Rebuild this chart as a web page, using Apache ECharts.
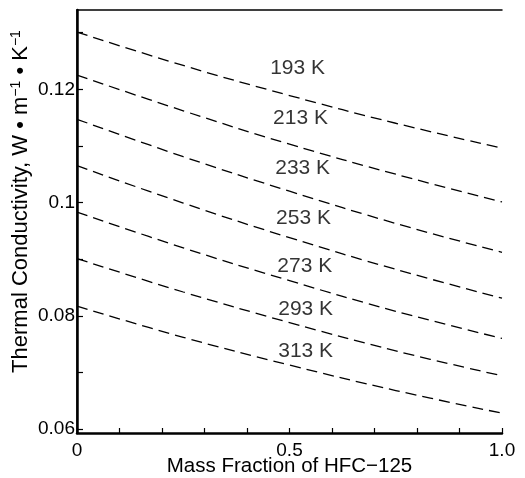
<!DOCTYPE html>
<html><head><meta charset="utf-8">
<script src="https://cdn.jsdelivr.net/npm/echarts@6/dist/echarts.min.js"></script>
<style>html,body{margin:0;padding:0;background:#fff}#c{width:525px;height:478px}</style>
</head><body><div id="c"></div>
<script>
// Mass fraction sample points
const massFraction = [0, 0.25, 0.5, 0.75, 1.0];
// Temperatures (K)
const temps = [193, 213, 233, 253, 273, 293, 313];
// Thermal conductivity values (W m^-1 K^-1) per isotherm
const k193 = [0.1301, 0.1242, 0.1189, 0.1140, 0.1096];
const k213 = [0.1225, 0.1162, 0.1103, 0.1050, 0.1001];
const k233 = [0.1147, 0.1081, 0.1020, 0.0963, 0.0912];
const k253 = [0.1065, 0.0999, 0.0938, 0.0882, 0.0831];
const k273 = [0.0983, 0.0920, 0.0862, 0.0808, 0.0760];
const k293 = [0.0901, 0.0842, 0.0788, 0.0738, 0.0694];
const k313 = [0.0817, 0.0762, 0.0713, 0.0668, 0.0628];
// Isotherm label anchors (mass fraction, conductivity)
const labelX = [0.519, 0.526, 0.531, 0.533, 0.536, 0.538, 0.538];
const labelY = [0.1237, 0.1149, 0.1061, 0.0973, 0.0888, 0.0811, 0.0737];
// Tick labels
const xTickLabels = [0, 0.5, 1.0];
const xTicks = [0, 0.1, 0.2, 0.3, 0.4, 0.5, 0.6, 0.7, 0.8, 0.9, 1.0];
const yTickLabels = [0.06, 0.08, 0.1, 0.12];
const yTicks = [0.06, 0.07, 0.08, 0.09, 0.10, 0.11, 0.12, 0.13];

const allK = [k193, k213, k233, k253, k273, k293, k313];
const FONT = 'Liberation Sans, Arial, sans-serif';

const lineSeries = allK.map((arr, i) => ({
  type: 'line', name: temps[i] + ' K', smooth: 0.4, symbol: 'none',
  data: massFraction.map((x, j) => [x, arr[j]]),
  lineStyle: { color: '#000', width: 1.3, type: [11, 6] },
  z: 2, silent: true
}));

const labelSeries = {
  type: 'scatter', symbolSize: 0, silent: true,
  data: temps.map((t, i) => ({ value: [labelX[i], labelY[i]], name: t + ' K' })),
  label: { show: true, position: 'inside', formatter: p => p.name,
           color: '#000', fontSize: 21, fontFamily: FONT },
  z: 5
};

const chart = echarts.init(document.getElementById('c'));
chart.setOption({
  animation: false,
  backgroundColor: '#fff',
  grid: { left: 77, right: 23, top: 10, bottom: 45, outerBoundsMode: 'none', containLabel: false },
  xAxis: [{
    type: 'value', min: 0, max: 1,
    name: 'Mass Fraction of HFC\u2212125', nameLocation: 'middle', nameGap: 23, nameMoveOverlap: false,
    nameTextStyle: { color: '#000', fontSize: 20.5, fontFamily: FONT },
    axisLine: { show: true, lineStyle: { color: '#000', width: 2.5 } },
    axisTick: { show: true, inside: true, length: 5, customValues: xTicks, lineStyle: { color: '#000', width: 1.2 } },
    axisLabel: { customValues: xTickLabels, color: '#000', fontSize: 19, fontFamily: FONT, margin: 8,
                 formatter: v => v === 1 ? '1.0' : String(v) },
    splitLine: { show: false }
  }, {
    type: 'value', min: 0, max: 1, position: 'top',
    axisLine: { show: true, lineStyle: { color: '#000', width: 1.5 } },
    axisTick: { show: false }, axisLabel: { show: false }, splitLine: { show: false }
  }],
  yAxis: [{
    type: 'value', min: 0.0593, max: 0.134,
    name: '{a|Thermal Conductivity, W \u2022 m}{s|\u22121}{a| \u2022 K}{s|\u22121}',
    nameLocation: 'middle', nameGap: 44, nameRotate: 90, nameMoveOverlap: false,
    nameTextStyle: { color: '#000', fontSize: 22, fontFamily: FONT, padding: [0, 0, 0, 40],
      rich: { a: { fontSize: 22, fontFamily: FONT, color: '#000' },
              s: { fontSize: 14, fontFamily: FONT, color: '#000', verticalAlign: 'top', padding: [0, 0, 10, 0] } } },
    axisLine: { show: true, lineStyle: { color: '#000', width: 2.5 } },
    axisTick: { show: true, inside: true, length: 6, customValues: yTicks, lineStyle: { color: '#000', width: 1.2 } },
    axisLabel: { customValues: yTickLabels, color: '#000', fontSize: 19, fontFamily: FONT, margin: 2,
                 formatter: v => String(Math.round(v * 100) / 100) },
    splitLine: { show: false }
  }, {
    type: 'value', min: 0.0593, max: 0.134, position: 'right',
    axisLine: { show: true, lineStyle: { color: '#000', width: 1.5 } },
    axisTick: { show: false }, axisLabel: { show: false }, splitLine: { show: false }
  }],
  series: [...lineSeries, labelSeries]
});
</script></body></html>
